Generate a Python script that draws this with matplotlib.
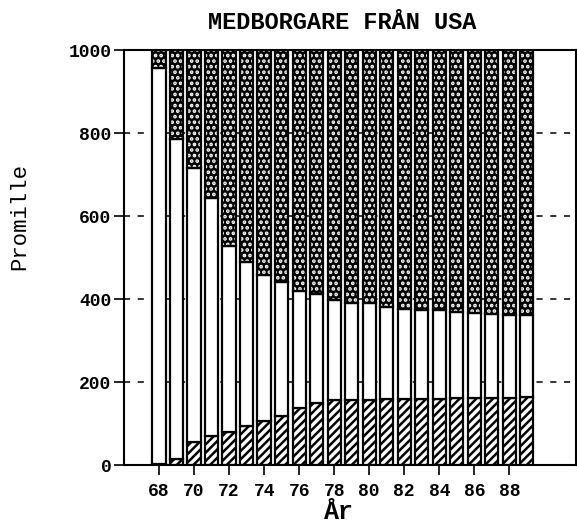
import numpy as np
import matplotlib.pyplot as plt

plt.rcParams['hatch.linewidth'] = 1.8

# (promille)
years = np.arange(68, 90)
hatched = [4, 14, 55, 70, 80, 95, 107, 118, 137, 149, 158, 158,
           158, 159, 160, 160, 160, 161, 161, 162, 163, 165]
white_top = [956, 785, 715, 643, 528, 490, 458, 442, 420, 412, 399, 391,
             391, 381, 377, 373, 373, 369, 367, 365, 363, 361]
yticks = [0, 200, 400, 600, 800, 1000]
xticks = list(range(68, 89, 2))
xticklabels = [str(y) for y in xticks]

hatched = np.array(hatched)
white_top = np.array(white_top)
middle = white_top - hatched
top = 1000 - white_top

mono = 'Liberation Mono'

fig = plt.figure(figsize=(5.77, 5.28), dpi=100)
ax = fig.add_axes([0.215, 0.119, 0.783, 0.786])

w = 0.76
ax.bar(years, hatched, w, color='white', edgecolor='black',
       hatch='////', linewidth=1.6, zorder=2)
ax.bar(years, middle, w, bottom=hatched, color='white',
       edgecolor='black', linewidth=1.6, zorder=2)
# black fill with white dots, outline drawn on top
ax.bar(years, top, w, bottom=white_top, color='black',
       edgecolor='white', hatch='...', linewidth=0, zorder=2)
ax.bar(years, top, w, bottom=white_top, fill=False,
       edgecolor='black', linewidth=1.6, zorder=3)

ax.set_xlim(66, 91.8)
ax.set_ylim(0, 1000)
ax.set_yticks(yticks)
ax.set_yticklabels([str(v) for v in yticks], fontfamily=mono,
                   fontweight='bold', fontsize=13)
ax.set_xticks(xticks)
ax.set_xticklabels(xticklabels, fontfamily=mono, fontweight='bold',
                   fontsize=13)
ax.tick_params(axis='y', direction='out', length=7, width=1.2, pad=2)
ax.tick_params(axis='x', direction='out', length=7, width=1.2, pad=6)

ax.set_axisbelow(True)
ax.yaxis.grid(True, color='black', linestyle=(0, (4, 5)), linewidth=1.1)

for s in ax.spines.values():
    s.set_linewidth(1.5)

ax.set_title('MEDBORGARE FRÅN USA', fontfamily=mono, fontweight='bold',
             fontsize=17, pad=15, x=0.482)
ax.set_ylabel('Promille', fontfamily=mono, fontsize=16)
ax.yaxis.set_label_coords(-0.208, 0.60)
ax.set_xlabel('År', fontfamily=mono, fontweight='bold', fontsize=18)
ax.xaxis.set_label_coords(0.475, -0.085)

fig.savefig('out.png', dpi=100)
